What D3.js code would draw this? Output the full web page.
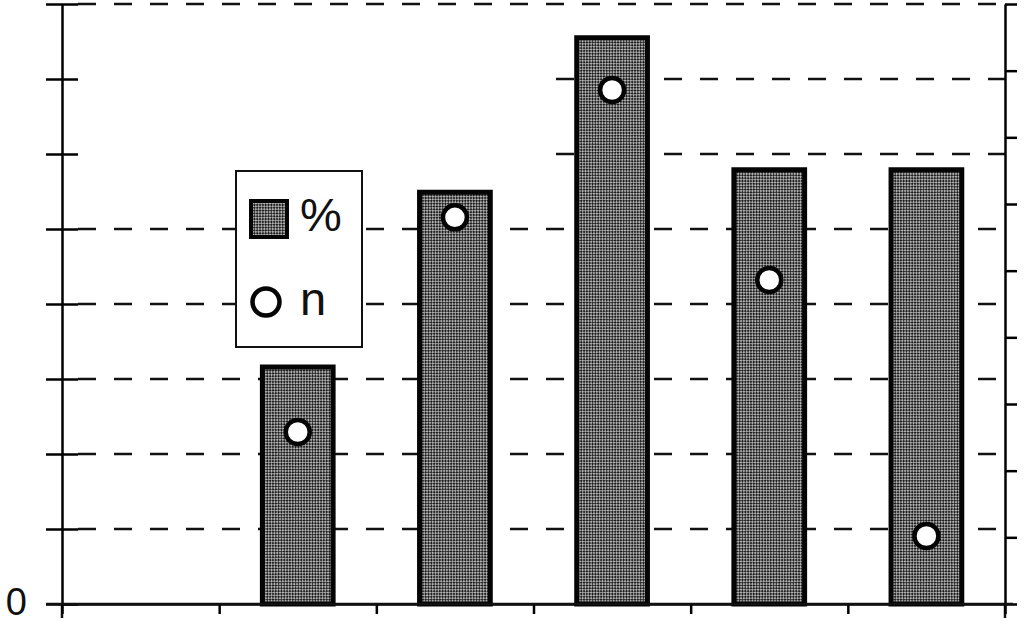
<!DOCTYPE html>
<html>
<head>
<meta charset="utf-8">
<script src="https://cdn.jsdelivr.net/npm/d3@7"></script>
<style>
  body { margin: 0; background: #fff; }
  svg { display: block; }
  text { font-family: "Liberation Sans", Arial, sans-serif; fill: #111; }
</style>
</head>
<body>
<script>
// six groups, no names printed on the chart
var categories = ["A", "B", "C", "D", "E", "F"];
// bars, read against the left axis (0..8)
var pctValues = [0, 3.16, 5.49, 7.55, 5.79, 5.79];
// white dots, read against the right axis (0..9)
var nValues = [null, 2.58, 5.8, 7.71, 4.86, 1.02];
var leftTicks = [0, 1, 2, 3, 4, 5, 6, 7, 8];
var rightTicks = [0, 1, 2, 3, 4, 5, 6, 7, 8, 9];
var legendLabels = ["%", "n"];

var W = 1024, H = 622;
var x0 = 62, x1 = 1005, yTop = 4, yBot = 604;
var lw = 2.5;

var svg = d3.select("body").append("svg")
    .attr("width", W)
    .attr("height", H);

// fine halftone fill like the scanned bars
var defs = svg.append("defs");
var pat = defs.append("pattern")
    .attr("id", "dots")
    .attr("patternUnits", "userSpaceOnUse")
    .attr("width", 4).attr("height", 4)
    .attr("patternTransform", "rotate(45)");
pat.append("rect").attr("width", 4).attr("height", 4).attr("fill", "#1e1e1e");
pat.append("rect").attr("x", 0).attr("y", 0).attr("width", 2).attr("height", 2).attr("fill", "#b0b0b0");
pat.append("rect").attr("x", 2).attr("y", 2).attr("width", 2).attr("height", 2).attr("fill", "#b0b0b0");

var x = d3.scaleBand()
    .domain(categories)
    .range([x0, x1])
    .paddingInner(0.55)
    .paddingOuter(0.275);
var xEdge = d3.scaleLinear().domain([0, categories.length]).range([x0, x1]);
var yL = d3.scaleLinear().domain([0, 8]).range([yBot, yTop]);
var yR = d3.scaleLinear().domain([0, 9]).range([yBot, yTop]);

// dashed gridlines (upper two only show on the right part)
svg.append("g").selectAll("line")
    .data(leftTicks.filter(function(d) { return d > 0; }))
    .join("line")
    .attr("x1", function(d) { return (d === 6 || d === 7) ? 556 : x0 + 16; })
    .attr("x2", x1)
    .attr("y1", function(d) { return yL(d); })
    .attr("y2", function(d) { return yL(d); })
    .attr("stroke", "#111")
    .attr("stroke-width", lw)
    .attr("stroke-dasharray", "18,18");

// bars
svg.append("g").selectAll("rect")
    .data(categories.map(function(c, i) { return {c: c, v: pctValues[i]}; }).filter(function(d) { return d.v > 0; }))
    .join("rect")
    .attr("x", function(d) { return x(d.c); })
    .attr("y", function(d) { return yL(d.v); })
    .attr("width", x.bandwidth())
    .attr("height", function(d) { return yBot - yL(d.v); })
    .attr("fill", "url(#dots)")
    .attr("stroke", "#050505")
    .attr("stroke-width", 5);

// dots
svg.append("g").selectAll("circle")
    .data(categories.map(function(c, i) { return {c: c, v: nValues[i]}; }).filter(function(d) { return d.v != null; }))
    .join("circle")
    .attr("cx", function(d) { return x(d.c) + x.bandwidth() / 2; })
    .attr("cy", function(d) { return yR(d.v); })
    .attr("r", 12)
    .attr("fill", "#fff")
    .attr("stroke", "#050505")
    .attr("stroke-width", 4.5);

// left axis, ticks cross the line
var gL = svg.append("g")
    .attr("transform", "translate(" + x0 + ",0)")
    .call(d3.axisLeft(yL).tickValues(leftTicks).tickSizeOuter(0)
      .tickFormat(function(d) { return d === 0 ? "0" : ""; }));
gL.selectAll(".tick line").attr("x1", -16).attr("x2", 16).attr("stroke-width", lw);
gL.select(".domain").attr("stroke-width", lw);
gL.selectAll(".tick text")
    .attr("x", -35)
    .attr("y", 10)
    .attr("dy", null)
    .style("font-size", "38px")
    .style("font-family", "Liberation Sans, Arial, sans-serif");
svg.append("line")
    .attr("x1", x0).attr("x2", x0).attr("y1", yBot).attr("y2", yBot + 14)
    .attr("stroke", "#111").attr("stroke-width", lw);

// right axis
var gR = svg.append("g")
    .attr("transform", "translate(" + x1 + ",0)")
    .call(d3.axisRight(yR).tickValues(rightTicks).tickSize(12).tickSizeOuter(0).tickFormat(""));
gR.selectAll("line, .domain").attr("stroke-width", lw);
svg.append("line")
    .attr("x1", x1).attr("x2", x1).attr("y1", yBot).attr("y2", yBot + 14)
    .attr("stroke", "#111").attr("stroke-width", lw);

// bottom axis, ticks on group edges
var gB = svg.append("g")
    .attr("transform", "translate(0," + yBot + ")")
    .call(d3.axisBottom(xEdge).ticks(categories.length).tickSize(10).tickSizeOuter(0).tickFormat(""));
gB.selectAll("line, .domain").attr("stroke-width", lw);
svg.append("line")
    .attr("x1", x0 - 16).attr("x2", x1 + 8).attr("y1", yBot).attr("y2", yBot)
    .attr("stroke", "#111").attr("stroke-width", lw);

// legend
var lg = svg.append("g").attr("transform", "translate(236,171)");
lg.append("rect")
    .attr("width", 126).attr("height", 176)
    .attr("fill", "#fff").attr("stroke", "#111").attr("stroke-width", 2);
lg.append("rect")
    .attr("x", 15).attr("y", 30).attr("width", 36).attr("height", 36)
    .attr("fill", "url(#dots)").attr("stroke", "#050505").attr("stroke-width", 4);
lg.append("circle")
    .attr("cx", 30).attr("cy", 131).attr("r", 13.5)
    .attr("fill", "#fff").attr("stroke", "#050505").attr("stroke-width", 4.5);
lg.selectAll("text.lab")
    .data(legendLabels)
    .join("text")
    .attr("class", "lab")
    .attr("x", 64)
    .attr("y", function(d, i) { return i === 0 ? 60 : 144; })
    .style("font-size", "47px")
    .text(function(d) { return d; });
</script>
</body>
</html>
